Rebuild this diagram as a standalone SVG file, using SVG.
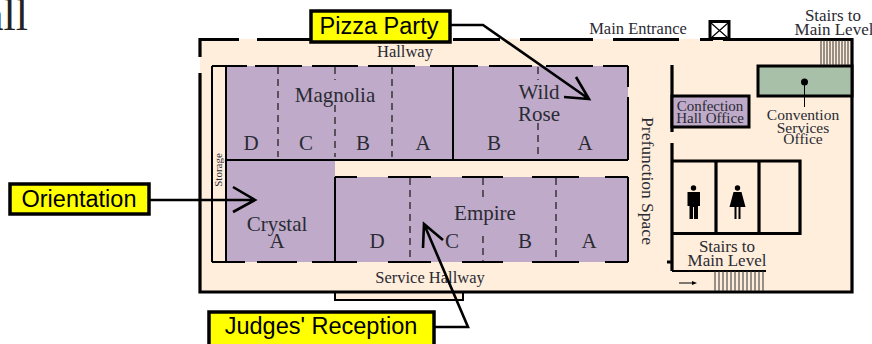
<svg xmlns="http://www.w3.org/2000/svg" width="872" height="344" viewBox="0 0 872 344">
<style>
text{font-family:"Liberation Serif",serif;fill:#2a2a33}
.m{text-anchor:middle}
.r{font-size:21px}
.s{font-size:16.500px}
.b{font-size:17px}
.t{font-size:15px}
.w{fill:none;stroke:#000;stroke-width:3.2}
.l{fill:none;stroke:#000;stroke-width:2}
.d{fill:none;stroke:#222;stroke-width:1.3;stroke-dasharray:7 5}
.h{fill:none;stroke:#333;stroke-width:1}
.p{fill:#bfabc9}
.lab rect{fill:#ff0;stroke:#000;stroke-width:3.5}
.lab text{font-family:"Liberation Sans",sans-serif;fill:#000;font-size:23.500px;text-anchor:middle}
.a{fill:none;stroke:#000;stroke-width:2.6}
</style>
<text x="28" y="30" font-size="44" style="text-anchor:end;fill:#222">all</text>
<g id="plan">
<rect x="200" y="39" width="652" height="253" fill="#feeedb"/>
<rect x="335" y="292" width="128" height="8" fill="#feeedb" stroke="#000" stroke-width="2"/>
<path class="w" d="M200 57V39.500H239M257 39.500H310M453 39.500H500M520 39.500H593M613 39.500H679M700 39.500H713M723 39.500H852V292H200V73"/>
<rect x="710" y="21.500" width="19" height="17" fill="#fff" stroke="#000" stroke-width="3"/>
<path d="M711 23L728 38M728 23L711 38" stroke="#000" stroke-width="1.200"/>
<path class="p" d="M226 66H628V160H335V177H628V262H226Z"/>
<path class="l" d="M226 66V262M212 262V66M335 177V262M226 160H628M453 66V160M628 66V87M628 97V160M628 177V262"/>
<path class="l" d="M212 66H247M255 66H302M312 66H358M368 66H415M430 66H478M489 66H532M546 66H593M603 66H628"/>
<path class="l" d="M335 177H357M388 177H431M462 177H503M532 177H579M605 177H628"/>
<path class="l" d="M212 262H245M257 262H297M312 262H357M388 262H431M462 262H503M532 262H579M605 262H628"/>
<path class="d" d="M278 67V157M335 67V80M335 105V157M392 67V157M538 67V80M538 123V157M410 178V261M483 178V201M483 236V261M556 178V261"/>
<path class="w" d="M672 65V132M672 143V271M667 262H672"/>
<rect x="672" y="96" width="77" height="31" class="p" stroke="#000" stroke-width="3"/>
<rect x="758" y="66" width="94" height="30" fill="#a8c0a8" stroke="#000" stroke-width="3"/>
<circle cx="804.500" cy="82" r="3.500" fill="#000"/>
<path d="M804.500 82V107" stroke="#000" stroke-width="1"/>
<path d="M672 161H800V233.500H672M716 161V233M759 161V233" class="w"/>
<path class="l" d="M672 271H766"/>
<path class="h" d="M821 40V65M824 40V65M827 40V65M830 40V65M833 40V65M836 40V65M839 40V65M842 40V65M845 40V65M848 40V65"/>
<path class="h" d="M715 271V291M719 271V291M723 271V291M727 271V291M731 271V291M735 271V291M739 271V291M743 271V291M747 271V291M751 271V291M755 271V291M759 271V291M763 271V291"/>
<path d="M679 283H693" stroke="#000" stroke-width="1"/><path d="M697 283L692 281V285Z" fill="#000"/>
<g fill="#000">
<circle cx="693.500" cy="188" r="2.700"/>
<path d="M687.500 192H700V206H698V219H694V207H693V219H689.500V206H687.500Z"/>
<circle cx="737.500" cy="188" r="2.700"/>
<path d="M733.500 192H741.500L745.500 207H740.500V219H738.500V207H736.500V219H734.500V207H729.500Z"/>
</g>
<text x="405" y="57" class="s m">Hallway</text>
<text x="335" y="102" class="r m">Magnolia</text>
<text x="539" y="99" class="r m">Wild</text>
<text x="539" y="121" class="r m">Rose</text>
<text x="251" y="150" class="r m">D</text>
<text x="306" y="150" class="r m">C</text>
<text x="363" y="150" class="r m">B</text>
<text x="423" y="150" class="r m">A</text>
<text x="494" y="150" class="r m">B</text>
<text x="585" y="150" class="r m">A</text>
<text x="277" y="231" class="r m">Crystal</text>
<text x="277" y="248" class="r m">A</text>
<text x="485" y="220" class="r m">Empire</text>
<text x="377" y="248" class="r m">D</text>
<text x="452" y="248" class="r m">C</text>
<text x="525" y="248" class="r m">B</text>
<text x="589" y="248" class="r m">A</text>
<text x="430" y="283" class="s m">Service Hallway</text>
<text x="638" y="34" class="s m">Main Entrance</text>
<text x="833" y="21" class="b m">Stairs to</text>
<text x="834" y="35" class="b m">Main Level</text>
<text x="710" y="111" class="t m">Confection</text>
<text x="710" y="123" class="t m">Hall Office</text>
<text x="803" y="120" class="t m" style="font-size:15.500px">Convention</text>
<text x="803" y="133" class="t m" style="font-size:15.500px">Services</text>
<text x="803" y="144" class="t m" style="font-size:15.500px">Office</text>
<text x="727" y="252" class="b m">Stairs to</text>
<text x="727" y="266" class="b m">Main Level</text>
<text transform="translate(642 181) rotate(90)" class="m" style="font-size:17.500px">Prefunction Space</text>
<text transform="translate(222 170) rotate(-90)" class="m" font-size="11">Storage</text>
</g>
<g id="connectors">
<path class="a" d="M450 25H483L589 99M576 77L589 99L564 97"/>
<path class="a" d="M150 200H255M233 187L255 200L233 212"/>
<path class="a" d="M435 327H468L424 224M423 248L424 224L443 240"/>
</g>
<g id="pizza-party" class="lab"><rect x="311" y="11" width="139" height="31"/><text x="379" y="34">Pizza Party</text></g>
<g id="orientation" class="lab"><rect x="10" y="184" width="139" height="30"/><text x="79" y="207">Orientation</text></g>
<g id="judges-reception" class="lab"><rect x="209" y="312" width="225" height="34"/><text x="321" y="334">Judges' Reception</text></g>
</svg>
